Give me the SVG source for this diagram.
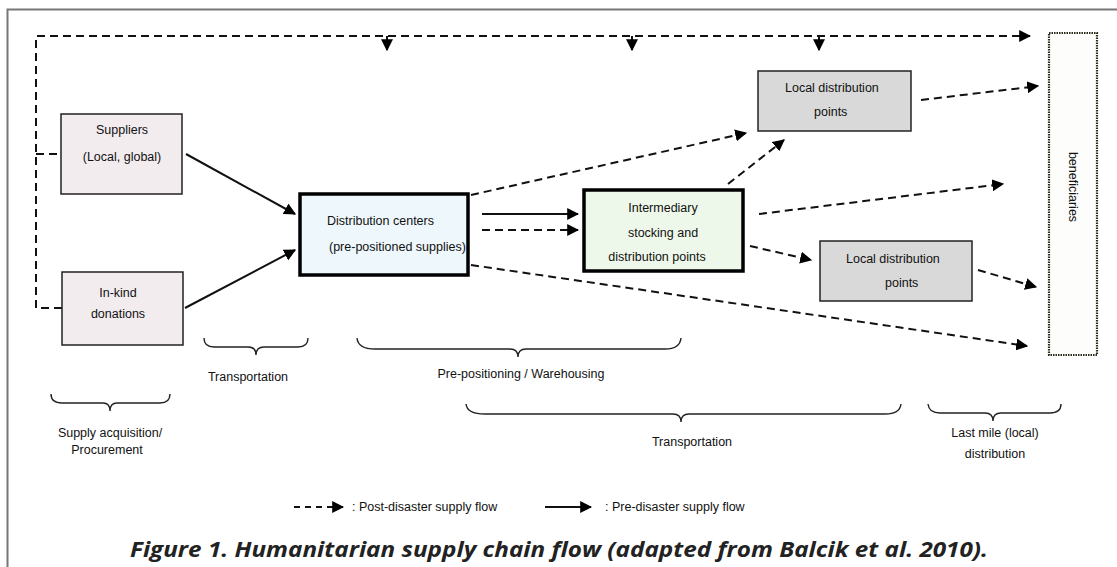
<svg xmlns="http://www.w3.org/2000/svg" width="1117" height="567" viewBox="0 0 1117 567">
<style>
.t{font-family:"Liberation Sans",Arial,sans-serif;font-size:12.5px;fill:#111}
.m{text-anchor:middle}
.box{stroke:#222;stroke-width:1.5}
.thick{stroke:#000;stroke-width:3.5}
.d{fill:none;stroke:#111;stroke-width:2;stroke-dasharray:8 5}
.s{fill:none;stroke:#111;stroke-width:2}
.br{fill:none;stroke:#222;stroke-width:1.4}
</style>
<defs>
<marker id="ah" viewBox="0 0 10 10" refX="9" refY="5" markerWidth="6" markerHeight="6" markerUnits="strokeWidth" orient="auto">
<path d="M0,0 L10,5 L0,10 z" fill="#000"/>
</marker>
</defs>
<rect width="1117" height="567" fill="#fff"/>
<path d="M7.5,567 V9.5 H1117" fill="none" stroke="#777" stroke-width="2"/>

<g id="connectors">
<path class="d" d="M62,308 H36 V36 H1030" marker-end="url(#ah)"/>
<path class="d" d="M36,154 H60"/>
<path class="d" d="M387,36 V50" style="stroke-dasharray:none" marker-end="url(#ah)"/>
<path class="d" d="M632,36 V50" style="stroke-dasharray:none" marker-end="url(#ah)"/>
<path class="d" d="M819,36 V50" style="stroke-dasharray:none" marker-end="url(#ah)"/>
<path class="s" d="M186,154 L295,214" marker-end="url(#ah)"/>
<path class="s" d="M185,308 L295,250" marker-end="url(#ah)"/>
<path class="s" d="M482,214 H578" marker-end="url(#ah)"/>
<path class="d" d="M482,230 H578" marker-end="url(#ah)"/>
<path class="d" d="M471,195 L746,133" marker-end="url(#ah)"/>
<path class="d" d="M471,265 L1027,346" marker-end="url(#ah)"/>
<path class="d" d="M728,184 L784,140" marker-end="url(#ah)"/>
<path class="d" d="M759,214 L1003,184" marker-end="url(#ah)"/>
<path class="d" d="M750,246 L811,260" marker-end="url(#ah)"/>
<path class="d" d="M921,100 L1038,86" marker-end="url(#ah)"/>
<path class="d" d="M978,270 L1036,287" marker-end="url(#ah)"/>
</g>

<g id="suppliers">
<rect class="box" x="61" y="114" width="121" height="80" fill="#f3ecef"/>
<text class="t m" x="122" y="134">Suppliers</text>
<text class="t m" x="122" y="161">(Local, global)</text>
</g>
<g id="inkind">
<rect class="box" x="62" y="272" width="121" height="73" fill="#f3ecef"/>
<text class="t m" x="118" y="297">In-kind</text>
<text class="t m" x="118" y="318">donations</text>
</g>
<g id="distribution-centers">
<rect class="thick" x="300" y="194" width="168" height="81" fill="#eef7fb"/>
<text class="t" x="327" y="225">Distribution centers</text>
<text class="t" x="329" y="251">(pre-positioned supplies)</text>
</g>
<g id="intermediary">
<rect class="thick" x="584" y="190" width="159" height="81" fill="#eef8ea"/>
<text class="t m" x="663" y="212">Intermediary</text>
<text class="t m" x="663" y="237">stocking and</text>
<text class="t m" x="657" y="261">distribution points</text>
</g>
<g id="local-top">
<rect class="box" x="758" y="71" width="153" height="60" fill="#d9d9d9"/>
<text class="t" x="785" y="92">Local distribution</text>
<text class="t" x="814" y="116">points</text>
</g>
<g id="local-bottom">
<rect class="box" x="820" y="241" width="152" height="60" fill="#d9d9d9"/>
<text class="t" x="846" y="263">Local distribution</text>
<text class="t" x="885" y="287">points</text>
</g>
<g id="beneficiaries">
<rect x="1049" y="33" width="48" height="322" fill="#fdfdfb" stroke="#2a2a1a" stroke-width="2.2" stroke-dasharray="1.5 1"/>
<text class="t m" transform="translate(1069,187) rotate(90)">beneficiaries</text>
</g>

<g id="braces">
<path class="br" d="M204,338 Q204,347 214,347 L248,347 Q256,347 256,355 Q256,347 264,347 L298,347 Q308,347 308,338"/>
<path class="br" d="M357,338 Q358,349 375,349 L510,349 Q518,349 518,357 Q518,349 526,349 L665,349 Q680,349 681,338"/>
<path class="br" d="M466,404 Q467,414 485,414 L673,414 Q681,414 681,422 Q681,414 689,414 L885,414 Q900,414 901,404"/>
<path class="br" d="M928,404 Q929,413 940,413 L985,413 Q993,413 993,421 Q993,413 1001,413 L1050,413 Q1061,413 1061,404"/>
<path class="br" d="M51,394 Q51,403 62,403 L103,403 Q110,403 110,411 Q110,403 117,403 L160,403 Q170,403 170,394"/>
</g>
<g id="labels">
<text class="t m" x="248" y="381">Transportation</text>
<text class="t m" x="521" y="378">Pre-positioning / Warehousing</text>
<text class="t m" x="692" y="446">Transportation</text>
<text class="t m" x="995" y="437">Last mile (local)</text>
<text class="t m" x="995" y="458">distribution</text>
<text class="t m" x="110" y="437">Supply acquisition/</text>
<text class="t m" x="107" y="454">Procurement</text>
</g>
<g id="legend">
<path class="d" d="M294,507 H343" style="stroke-dasharray:6 5" marker-end="url(#ah)"/>
<text class="t" x="352" y="511">: Post-disaster supply flow</text>
<path class="s" d="M545,507 H591" marker-end="url(#ah)"/>
<text class="t" x="605" y="511">: Pre-disaster supply flow</text>
</g>
<text x="559" y="557" text-anchor="middle" font-family="'Open Sans','Liberation Sans',sans-serif" font-weight="bold" font-style="italic" font-size="22" fill="#222" textLength="858" lengthAdjust="spacingAndGlyphs">Figure 1. Humanitarian supply chain flow (adapted from Balcik et al. 2010).</text>
</svg>
